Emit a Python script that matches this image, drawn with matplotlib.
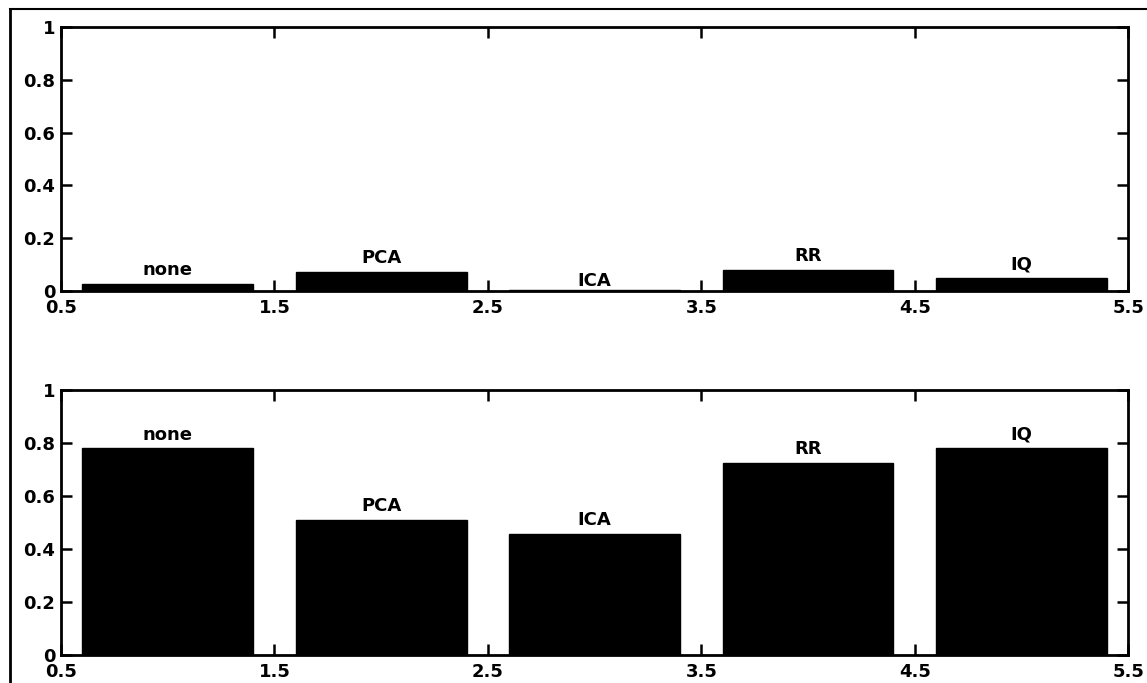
import matplotlib
matplotlib.use('Agg')
import matplotlib.pyplot as plt
from matplotlib.lines import Line2D

methods = ['none', 'PCA', 'ICA', 'RR', 'IQ']
positions = [1, 2, 3, 4, 5]
top_values = [0.027, 0.072, 0.005, 0.08, 0.05]
bottom_values = [0.78, 0.51, 0.457, 0.725, 0.78]
xticks = [0.5, 1.5, 2.5, 3.5, 4.5, 5.5]
yticks = [0, 0.2, 0.4, 0.6, 0.8, 1]
ytick_labels = ['0', '0.2', '0.4', '0.6', '0.8', '1']

plt.rcParams['font.family'] = ['DejaVu Sans']
plt.rcParams['font.weight'] = 'bold'
plt.rcParams['font.size'] = 13


def draw_panel(ax, values, gaps):
    ax.bar(positions, values, width=0.8, color='black', edgecolor='black')
    for x, v, name, gap in zip(positions, values, methods, gaps):
        ax.text(x, v + gap, name, ha='center', va='bottom',
                fontsize=13, fontweight='bold')
    ax.set_xlim(0.5, 5.5)
    ax.set_ylim(0, 1)
    ax.set_xticks(xticks)
    ax.set_xticklabels([str(t) for t in xticks])
    ax.set_yticks(yticks)
    ax.set_yticklabels(ytick_labels)
    ax.tick_params(direction='in', length=8, width=1.8, top=True, right=True,
                   labelsize=13)
    ax.tick_params(axis='x', pad=6)
    ax.tick_params(axis='y', pad=4)
    for spine in ax.spines.values():
        spine.set_linewidth(2)


fig = plt.figure(figsize=(11.47, 6.83), dpi=100)
ax1 = fig.add_axes([0.0532, 0.574, 0.9303, 0.3865])
ax2 = fig.add_axes([0.0532, 0.041, 0.9303, 0.388])
# the ICA label in the upper panel sits right on the axis
draw_panel(ax1, top_values, [0.018, 0.018, 0.0, 0.018, 0.018])
draw_panel(ax2, bottom_values, [0.018] * 5)

# outer frame along the left and top edges
fig.add_artist(Line2D([0.0087, 0.0087], [0.0, 0.987], color='black', lw=2,
                      transform=fig.transFigure))
fig.add_artist(Line2D([0.0087, 1.0], [0.987, 0.987], color='black', lw=1.5,
                      transform=fig.transFigure))

fig.savefig('out.png', dpi=100)
